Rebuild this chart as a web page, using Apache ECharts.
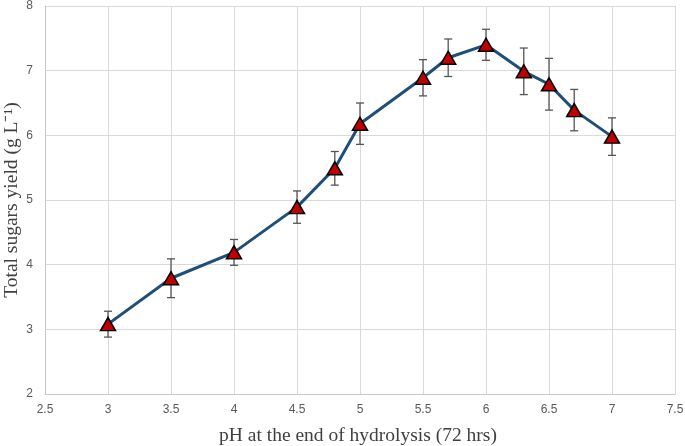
<!DOCTYPE html>
<html>
<head>
<meta charset="utf-8">
<script src="https://cdn.jsdelivr.net/npm/echarts@6/dist/echarts.min.js"></script>
<style>
html,body{margin:0;padding:0;background:#fff;}
#c{width:685px;height:446px;}
</style>
</head>
<body>
<div id="c"></div>
<script>
var phValues = [3, 3.5, 4, 4.5, 4.8, 5, 5.5, 5.7, 6, 6.3, 6.5, 6.7, 7];
var sugarYield = [3.08, 3.79, 4.19, 4.89, 5.49, 6.18, 6.89, 7.2, 7.4, 6.99, 6.79, 6.39, 5.98];
var errorValues = [0.2, 0.3, 0.2, 0.25, 0.26, 0.32, 0.28, 0.29, 0.24, 0.36, 0.4, 0.32, 0.29];
var xTitle = 'pH at the end of hydrolysis (72 hrs)';
var yTitle = 'Total sugars yield (g L\u207B\u00B9)';

var lineData = phValues.map(function (x, i) { return [x, sugarYield[i]]; });
var errData = phValues.map(function (x, i) { return [x, sugarYield[i] - errorValues[i], sugarYield[i] + errorValues[i]]; });

var chart = echarts.init(document.getElementById('c'));
chart.setOption({
  animation: false,
  backgroundColor: '#ffffff',
  grid: { left: 45, right: 10, top: 6, bottom: 52, containLabel: false, outerBoundsMode: 'none' },
  xAxis: {
    type: 'value', min: 2.5, max: 7.5, interval: 0.5,
    name: xTitle, nameLocation: 'middle', nameGap: 32, nameMoveOverlap: false,
    nameTextStyle: { fontFamily: 'Liberation Serif', fontSize: 19.5, color: '#404040', padding: [0, 4, 0, 0] },
    axisLine: { show: true, lineStyle: { color: '#c8c8c8', width: 1 } },
    axisTick: { show: false },
    axisLabel: { fontFamily: 'Liberation Sans', fontSize: 12, color: '#595959', margin: 10 },
    splitLine: { show: true, lineStyle: { color: '#d9d9d9', width: 1 } }
  },
  yAxis: {
    type: 'value', min: 2, max: 8, interval: 1,
    name: yTitle, nameLocation: 'middle', nameGap: 23, nameMoveOverlap: false,
    nameTextStyle: { fontFamily: 'Liberation Serif', fontSize: 19.5, color: '#404040' },
    axisLine: { show: true, lineStyle: { color: '#c8c8c8', width: 1 } },
    axisTick: { show: false },
    axisLabel: { fontFamily: 'Liberation Sans', fontSize: 12, color: '#595959', margin: 12 },
    splitLine: { show: true, lineStyle: { color: '#d9d9d9', width: 1 } }
  },
  series: [
    {
      type: 'custom',
      z: 3,
      data: errData,
      encode: { x: 0, y: [1, 2] },
      renderItem: function (params, api) {
        var x = api.value(0);
        var lo = api.coord([x, api.value(1)]);
        var hi = api.coord([x, api.value(2)]);
        var cw = 4;
        var style = { stroke: '#555555', lineWidth: 1.3 };
        return {
          type: 'group',
          children: [
            { type: 'line', shape: { x1: lo[0], y1: lo[1], x2: hi[0], y2: hi[1] }, style: style },
            { type: 'line', shape: { x1: hi[0] - cw, y1: hi[1], x2: hi[0] + cw, y2: hi[1] }, style: style },
            { type: 'line', shape: { x1: lo[0] - cw, y1: lo[1], x2: lo[0] + cw, y2: lo[1] }, style: style }
          ]
        };
      }
    },
    {
      type: 'line',
      z: 4,
      data: lineData,
      symbol: 'triangle',
      symbolSize: [15, 13],
      lineStyle: { color: '#1f4e79', width: 3 },
      itemStyle: { color: '#c00000', borderColor: '#000000', borderWidth: 1.5 }
    }
  ]
});
</script>
</body>
</html>
